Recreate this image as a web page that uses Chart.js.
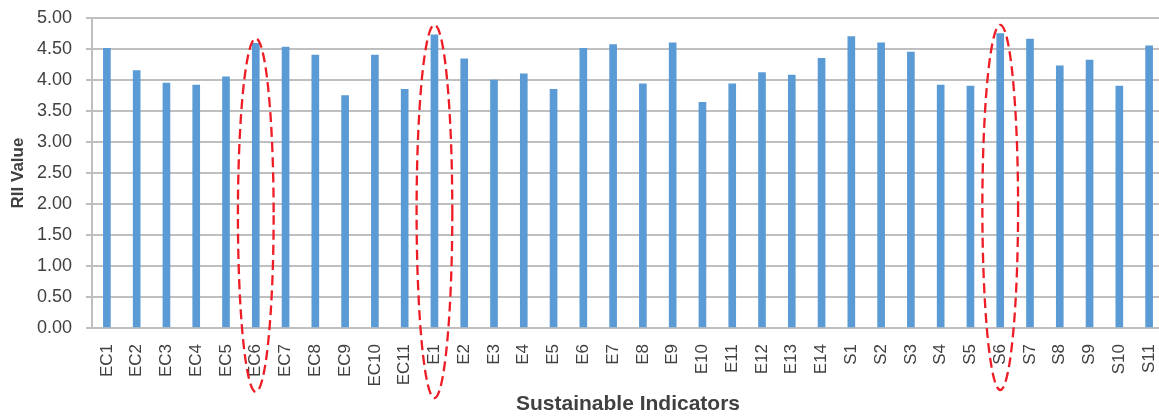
<!DOCTYPE html>
<html>
<head>
<meta charset="utf-8">
<script src="https://cdn.jsdelivr.net/npm/chart.js@4"></script>
<style>
  html, body { margin: 0; padding: 0; overflow: hidden; background: #fff; }
</style>
</head>
<body>
<canvas id="riiChart" width="1164" height="417"></canvas>
<script>
  const indicators = [
    "EC1", "EC2", "EC3", "EC4", "EC5", "EC6", "EC7", "EC8", "EC9", "EC10", "EC11",
    "E1", "E2", "E3", "E4", "E5", "E6", "E7", "E8", "E9", "E10", "E11", "E12", "E13", "E14",
    "S1", "S2", "S3", "S4", "S5", "S6", "S7", "S8", "S9", "S10", "S11"
  ];
  const riiValues = [
    4.51, 4.15, 3.95, 3.92, 4.05, 4.59, 4.53, 4.40, 3.75, 4.40, 3.85,
    4.73, 4.34, 4.00, 4.10, 3.85, 4.51, 4.57, 3.94, 4.60, 3.64, 3.94, 4.12, 4.08, 4.35,
    4.70, 4.60, 4.45, 3.92, 3.90, 4.75, 4.66, 4.23, 4.32, 3.90, 4.55
  ];
  const circled = ["EC6", "E1", "S6"];

  const gridGrey = "#bfbfbf";
  const textGrey = "#404040";
  const font = "'Liberation Sans', Arial, sans-serif";

  // dashed red ellipses around the highlighted bars
  const ellipsePlugin = {
    id: "ellipses",
    afterDraw(chart, args, opts) {
      const x = chart.scales.x;
      const y = chart.scales.y;
      const ctx = chart.ctx;
      const step = x.width / indicators.length;
      ctx.save();
      ctx.strokeStyle = opts.color;
      ctx.lineWidth = opts.width;
      ctx.setLineDash(opts.dash);
      circled.forEach((name, i) => {
        const cx = x.getPixelForValue(indicators.indexOf(name));
        const top = y.getPixelForValue(opts.top[i]);
        const bottom = y.getPixelForValue(opts.bottom[i]);
        ctx.beginPath();
        ctx.ellipse(cx, (top + bottom) / 2, step * opts.rx, (bottom - top) / 2, 0, 0, Math.PI * 2);
        ctx.stroke();
      });
      ctx.restore();
    },
  };

  const ctx = document.getElementById("riiChart").getContext("2d");
  const myChart = new Chart(ctx, {
    type: "bar",
    data: {
      labels: indicators,
      datasets: [
        {
          label: "RII Value",
          data: riiValues,
          backgroundColor: "#5b9bd5",
          barThickness: 7,
        },
      ],
    },
    plugins: [ellipsePlugin],
    options: {
      responsive: false,
      animation: false,
      devicePixelRatio: 1,
      layout: { padding: { top: 18, right: 0, bottom: 0, left: 0 } },
      plugins: {
        legend: { display: false },
        tooltip: { enabled: false },
        ellipses: {
          top: [4.67, 4.89, 4.89],
          bottom: [-1.03, -1.13, -1.0],
          rx: 0.6,
          color: "#ee1c25",
          width: 2.3,
          dash: [10, 5],
        },
      },
      scales: {
        x: {
          grid: { display: false, drawTicks: false, tickLength: 0 },
          border: { display: true, color: gridGrey, width: 2 },
          ticks: {
            autoSkip: false,
            maxRotation: 90,
            minRotation: 90,
            padding: 16,
            color: textGrey,
            font: { family: font, size: 17 },
          },
          title: {
            display: true,
            text: "Sustainable Indicators",
            color: textGrey,
            font: { family: font, size: 21, weight: "bold" },
            padding: { top: 0, bottom: 0 },
          },
          afterFit(scale) {
            scale.height = 89;
            scale.paddingLeft = 0;
            scale.paddingRight = 0;
          },
        },
        y: {
          min: 0,
          max: 5,
          ticks: {
            stepSize: 0.5,
            padding: 14,
            color: textGrey,
            font: { family: font, size: 18 },
            callback: (v) => v.toFixed(2),
          },
          grid: { color: gridGrey, lineWidth: 2, tickLength: 6 },
          border: { display: true, color: gridGrey, width: 2 },
          title: {
            display: true,
            text: "RII Value",
            color: textGrey,
            font: { family: font, size: 17, weight: "bold" },
            padding: { top: 8, bottom: 0 },
          },
          afterFit(scale) {
            scale.width = 92;
            scale.paddingTop = 0;
            scale.paddingBottom = 0;
          },
        },
      },
    },
  });
</script>
</body>
</html>
